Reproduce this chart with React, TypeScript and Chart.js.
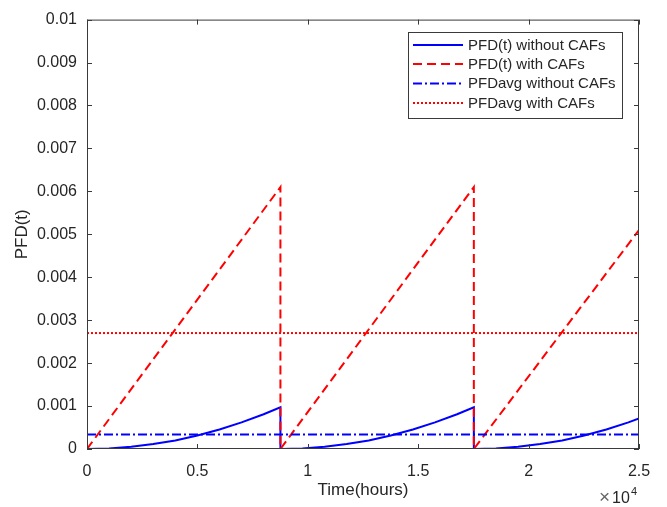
import React, { useEffect, useRef } from "react";
import { Chart, registerables } from "chart.js";

Chart.register(...registerables);

// ---- data ----
const xTickValues = [0, 5000, 10000, 15000, 20000, 25000];
const xTickLabels = ["0", "0.5", "1", "1.5", "2", "2.5"];
const yTickValues = [0, 0.001, 0.002, 0.003, 0.004, 0.005, 0.006, 0.007, 0.008, 0.009, 0.01];
const yTickLabels = ["0", "0.001", "0.002", "0.003", "0.004", "0.005", "0.006", "0.007", "0.008", "0.009", "0.01"];

const seriesNames = ["PFD(t) without CAFs", "PFD(t) with CAFs", "PFDavg without CAFs", "PFDavg with CAFs"];

const pfdWithoutTime = [
  0, 1000, 2000, 3000, 4000, 5000, 6000, 7000, 8000, 8760,
  8760, 9760, 10760, 11760, 12760, 13760, 14760, 15760, 16760, 17520,
  17520, 18520, 19520, 20520, 21520, 22520, 23520, 24520, 25000,
];
const pfdWithoutValues = [
  0, 0.000013, 0.00005, 0.000114, 0.0002, 0.000315, 0.000455, 0.00062, 0.00081, 0.00097,
  0, 0.000013, 0.00005, 0.000114, 0.0002, 0.000315, 0.000455, 0.00062, 0.00081, 0.00097,
  0, 0.000013, 0.00005, 0.000114, 0.0002, 0.000315, 0.000455, 0.00062, 0.00071,
];

const pfdWithTime = [0, 8760, 8760, 17520, 17520, 25000];
const pfdWithValues = [0, 0.0061, 0, 0.0061, 0, 0.0051];

const avgTime = [0, 25000];
const pfdAvgWithout = [0.00034, 0.00034];
const pfdAvgWith = [0.0027, 0.0027];

const colors = ["#0000ff", "#ff0000", "#0000ff", "#ff0000"];
const dashes: number[][] = [[], [9, 5], [9, 3, 2, 3], [2, 2]];

const FONT = "'Liberation Sans', Arial, Helvetica, sans-serif";
const TEXT = "#262626";
const AXIS = "#3a3a3a";

function pts(xs: number[], ys: number[]) {
  return xs.map((x, i) => ({ x, y: ys[i] }));
}

const decor = {
  id: "matlabDecor",
  afterDraw(chart: any) {
    const ctx = chart.ctx as CanvasRenderingContext2D;
    const { left, right, top, bottom } = chart.chartArea;
    const xs = chart.scales.x;
    const ys = chart.scales.y;
    ctx.save();
    // box
    ctx.strokeStyle = AXIS;
    ctx.lineWidth = 1;
    ctx.setLineDash([]);
    ctx.strokeRect(left + 0.5, top + 0.5, right - left - 1, bottom - top - 1);
    // inward ticks
    const tl = 5;
    ctx.beginPath();
    xTickValues.forEach((v) => {
      const px = Math.round(xs.getPixelForValue(v)) + 0.5;
      ctx.moveTo(px, bottom);
      ctx.lineTo(px, bottom - tl);
      ctx.moveTo(px, top);
      ctx.lineTo(px, top + tl);
    });
    yTickValues.forEach((v) => {
      const py = Math.round(ys.getPixelForValue(v)) + 0.5;
      ctx.moveTo(left, py);
      ctx.lineTo(left + tl, py);
      ctx.moveTo(right, py);
      ctx.lineTo(right - tl, py);
    });
    ctx.stroke();

    // axis titles
    ctx.fillStyle = TEXT;
    ctx.font = `17px ${FONT}`;
    ctx.textAlign = "center";
    ctx.textBaseline = "middle";
    ctx.fillText("Time(hours)", (left + right) / 2, 490);
    ctx.save();
    ctx.translate(22, (top + bottom) / 2);
    ctx.rotate(-Math.PI / 2);
    ctx.fillText("PFD(t)", 0, 0);
    ctx.restore();

    // x10^4 exponent
    ctx.textAlign = "left";
    ctx.textBaseline = "alphabetic";
    ctx.fillStyle = "#666";
    ctx.font = `19px ${FONT}`;
    ctx.fillText("×", 599, 503);
    ctx.fillStyle = TEXT;
    ctx.font = `16px ${FONT}`;
    ctx.fillText("10", 612, 503);
    ctx.font = `11px ${FONT}`;
    ctx.fillText("4", 631, 495);

    // legend
    const bx = 408, by = 32, bw = 214, bh = 86;
    ctx.fillStyle = "#ffffff";
    ctx.fillRect(bx, by, bw, bh);
    ctx.strokeStyle = AXIS;
    ctx.lineWidth = 1;
    ctx.strokeRect(bx + 0.5, by + 0.5, bw, bh);
    const rowY = [45, 64, 83.5, 103];
    ctx.font = `15px ${FONT}`;
    ctx.textBaseline = "middle";
    seriesNames.forEach((name, i) => {
      ctx.strokeStyle = colors[i];
      ctx.lineWidth = 2;
      ctx.setLineDash(dashes[i]);
      ctx.beginPath();
      ctx.moveTo(413, rowY[i]);
      ctx.lineTo(463, rowY[i]);
      ctx.stroke();
      ctx.setLineDash([]);
      ctx.fillStyle = TEXT;
      ctx.fillText(name, 468, rowY[i] + 0.5);
    });
    ctx.restore();
  },
};

export default function App() {
  const ref = useRef<HTMLCanvasElement>(null);
  useEffect(() => {
    if (!ref.current) return;
    const chart = new Chart(ref.current, {
      type: "line",
      data: {
        datasets: [
          { label: seriesNames[0], data: pts(pfdWithoutTime, pfdWithoutValues), borderColor: colors[0], borderWidth: 2, borderDash: dashes[0], pointRadius: 0, order: 4, tension: 0 },
          { label: seriesNames[1], data: pts(pfdWithTime, pfdWithValues), borderColor: colors[1], borderWidth: 2, borderDash: dashes[1], pointRadius: 0, order: 3 },
          { label: seriesNames[2], data: pts(avgTime, pfdAvgWithout), borderColor: colors[2], borderWidth: 2, borderDash: dashes[2], pointRadius: 0, order: 2 },
          { label: seriesNames[3], data: pts(avgTime, pfdAvgWith), borderColor: colors[3], borderWidth: 2, borderDash: dashes[3], pointRadius: 0, order: 1 },
        ],
      },
      options: {
        responsive: false,
        animation: false,
        parsing: false,
        layout: { padding: { left: 0, top: 14, right: 28, bottom: 0 } },
        plugins: { legend: { display: false }, tooltip: { enabled: false } },
        scales: {
          x: {
            type: "linear",
            min: 0,
            max: 25000,
            afterBuildTicks: (s: any) => { s.ticks = xTickValues.map((v) => ({ value: v })); },
            afterFit: (s: any) => { s.height = 58; },
            grid: { display: false, drawTicks: false },
            border: { display: false },
            ticks: {
              padding: 13,
              color: TEXT,
              font: { family: FONT, size: 16 },
              maxRotation: 0,
              callback: (_v: any, i: number) => xTickLabels[i],
            },
          },
          y: {
            type: "linear",
            min: 0,
            max: 0.01,
            afterBuildTicks: (s: any) => { s.ticks = yTickValues.map((v) => ({ value: v })); },
            afterFit: (s: any) => { s.width = 87; },
            grid: { display: false, drawTicks: false },
            border: { display: false },
            ticks: {
              padding: 10,
              color: TEXT,
              font: { family: FONT, size: 16 },
              callback: (_v: any, i: number) => yTickLabels[i],
            },
          },
        },
      },
      plugins: [decor],
    });
    return () => chart.destroy();
  }, []);
  return (
    <div style={{ position: "absolute", left: 0, top: 0, width: 667, height: 507, background: "#fff" }}>
      <canvas ref={ref} width={667} height={507} />
    </div>
  );
}
